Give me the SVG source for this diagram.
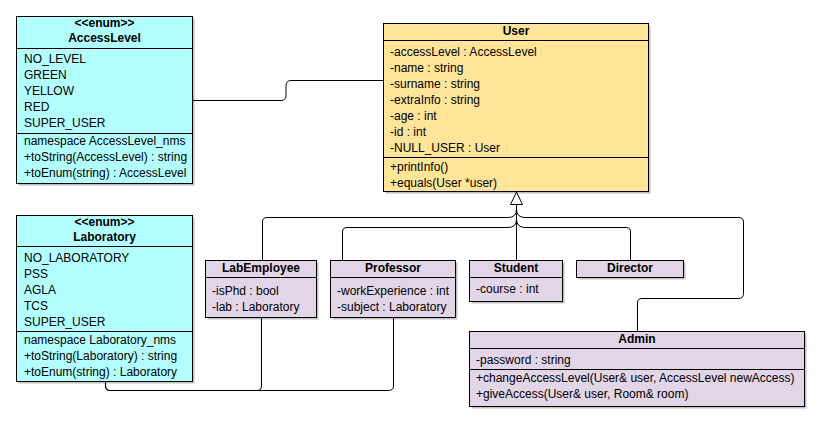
<svg xmlns="http://www.w3.org/2000/svg" width="821" height="421" viewBox="0 0 821 421">
<style>
text{font-family:"Liberation Sans",Arial,sans-serif;font-size:12px;fill:#000}
.t{font-weight:bold;text-anchor:middle}
.box{stroke:#000;stroke-width:1}
.cy{fill:#b3ffff}
.ye{fill:#ffe599}
.pu{fill:#e1d5e7}
.sh{fill:#000;opacity:0.25}
.dv{stroke:#000;stroke-width:1;fill:none}
.ln{stroke:#000;stroke-width:1;fill:none}
</style>
<rect width="821" height="421" fill="#fff"/>
<g id="connectors">
<path class="ln" d="M192.5,100.5 H281 Q286,100.5 286,95.5 V86 Q286,80.5 291,80.5 H383.5"/>
<path class="ln" d="M516.5,260.5 V204.5"/>
<path class="ln" d="M262.5,260.5 V222 Q262.5,217.5 267,217.5 H508 Q516.5,217.5 516.5,209"/>
<path class="ln" d="M342.5,260.5 V232 Q342.5,227.5 347,227.5 H508 Q516.5,227.5 516.5,219"/>
<path class="ln" d="M630.5,260.5 V232 Q630.5,227.5 626,227.5 H525 Q516.5,227.5 516.5,219"/>
<path class="ln" d="M637.5,331.5 V303 Q637.5,298.5 642,298.5 H738.5 Q743.5,298.5 743.5,293.5 V222 Q743.5,217.5 738.5,217.5 H525 Q516.5,217.5 516.5,209"/>
<polygon points="516.5,192 510.5,204.5 522.5,204.5" fill="#fff" stroke="#000" stroke-width="1"/>
<path class="ln" d="M105.5,381.5 V386 Q105.5,390.5 110,390.5 H257 Q261.5,390.5 261.5,386 V317.5"/>
<path class="ln" d="M105.5,381.5 V386 Q105.5,390.5 110,390.5 H388.5 Q393.5,390.5 393.5,386 V317.5"/>
</g>
<g id="AccessLevel">
<rect class="sh" x="18.5" y="18.5" width="176" height="167"/>
<rect class="box cy" x="16.5" y="16.5" width="176" height="167"/>
<path class="dv" d="M16.5,48.5 H192.5 M16.5,133.5 H192.5"/>
<text class="t" x="104.5" y="27">&lt;&lt;enum&gt;&gt;</text>
<text class="t" x="104.5" y="42">AccessLevel</text>
<text x="24" y="63">NO_LEVEL</text>
<text x="24" y="79">GREEN</text>
<text x="24" y="95">YELLOW</text>
<text x="24" y="111">RED</text>
<text x="24" y="127">SUPER_USER</text>
<text x="24" y="145">namespace AccessLevel_nms</text>
<text x="24" y="161">+toString(AccessLevel) : string</text>
<text x="24" y="177">+toEnum(string) : AccessLevel</text>
</g>
<g id="User">
<rect class="sh" x="385.5" y="25.5" width="265" height="168"/>
<rect class="box ye" x="383.5" y="23.5" width="265" height="168"/>
<path class="dv" d="M383.5,40.5 H648.5 M383.5,157.5 H648.5"/>
<text class="t" x="516" y="35">User</text>
<text x="390" y="56">-accessLevel : AccessLevel</text>
<text x="390" y="72">-name : string</text>
<text x="390" y="88">-surname : string</text>
<text x="390" y="104">-extraInfo : string</text>
<text x="390" y="120">-age : int</text>
<text x="390" y="136">-id : int</text>
<text x="390" y="152">-NULL_USER : User</text>
<text x="390" y="171">+printInfo()</text>
<text x="390" y="187">+equals(User *user)</text>
</g>
<g id="Laboratory">
<rect class="sh" x="18.5" y="217.5" width="176" height="166"/>
<rect class="box cy" x="16.5" y="215.5" width="176" height="166"/>
<path class="dv" d="M16.5,246.5 H192.5 M16.5,331.5 H192.5"/>
<text class="t" x="104.5" y="226">&lt;&lt;enum&gt;&gt;</text>
<text class="t" x="104.5" y="241">Laboratory</text>
<text x="24" y="262">NO_LABORATORY</text>
<text x="24" y="278">PSS</text>
<text x="24" y="294">AGLA</text>
<text x="24" y="310">TCS</text>
<text x="24" y="326">SUPER_USER</text>
<text x="24" y="344">namespace Laboratory_nms</text>
<text x="24" y="360">+toString(Laboratory) : string</text>
<text x="24" y="376">+toEnum(string) : Laboratory</text>
</g>
<g id="LabEmployee">
<rect class="sh" x="207.5" y="262.5" width="111" height="57"/>
<rect class="box pu" x="205.5" y="260.5" width="111" height="57"/>
<path class="dv" d="M205.5,277.5 H316.5"/>
<text class="t" x="261" y="272">LabEmployee</text>
<text x="212" y="295">-isPhd : bool</text>
<text x="212" y="311">-lab : Laboratory</text>
</g>
<g id="Professor">
<rect class="sh" x="332.5" y="262.5" width="125" height="57"/>
<rect class="box pu" x="330.5" y="260.5" width="125" height="57"/>
<path class="dv" d="M330.5,277.5 H455.5"/>
<text class="t" x="393" y="272">Professor</text>
<text x="337" y="295">-workExperience : int</text>
<text x="337" y="311">-subject : Laboratory</text>
</g>
<g id="Student">
<rect class="sh" x="471.5" y="262.5" width="93" height="41"/>
<rect class="box pu" x="469.5" y="260.5" width="93" height="41"/>
<path class="dv" d="M469.5,277.5 H562.5"/>
<text class="t" x="516" y="272">Student</text>
<text x="476" y="293">-course : int</text>
</g>
<g id="Director">
<rect class="sh" x="578.5" y="262.5" width="107" height="17"/>
<rect class="box pu" x="576.5" y="260.5" width="107" height="17"/>
<text class="t" x="630" y="272">Director</text>
</g>
<g id="Admin">
<rect class="sh" x="471.5" y="333.5" width="335" height="75"/>
<rect class="box pu" x="469.5" y="331.5" width="335" height="75"/>
<path class="dv" d="M469.5,348.5 H804.5 M469.5,369.5 H804.5"/>
<text class="t" x="637" y="343">Admin</text>
<text x="476" y="364">-password : string</text>
<text x="476" y="382">+changeAccessLevel(User&amp; user, AccessLevel newAccess)</text>
<text x="476" y="398">+giveAccess(User&amp; user, Room&amp; room)</text>
</g>
</svg>
